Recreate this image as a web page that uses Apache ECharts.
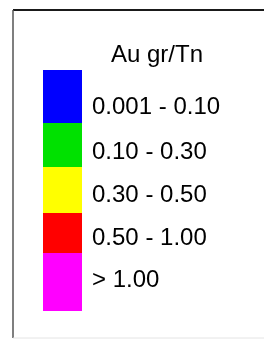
<!DOCTYPE html>
<html>
<head>
<meta charset="utf-8">
<script src="https://cdn.jsdelivr.net/npm/echarts@6/dist/echarts.min.js"></script>
<style>
    html, body { margin: 0; padding: 0; background: #fff; }
    #legendChart { width: 264px; height: 342px; }
</style>
</head>
<body>
<div id="legendChart"></div>
<script>
    // clases de ley de oro
    var classLabels = ['0.001 - 0.10', '0.10 - 0.30', '0.30 - 0.50', '0.50 - 1.00', '> 1.00'];
    var classColors = ['#0000ff', '#00e100', '#ffff00', '#ff0000', '#ff00ff'];
    // alto de cada bloque de color (px del original)
    var blockHeights = [53, 44, 46, 40, 58];
    var labelShift = [11, 7, 5, 5, -2];

    var total = blockHeights.reduce(function (a, b) { return a + b; }, 0);
    var series = [];
    for (var i = 0; i < classLabels.length; i++) {
        series.push({
            name: classLabels[i],
            type: 'bar',
            stack: 'ley',
            barWidth: '100%',
            data: [blockHeights[i]],
            itemStyle: { color: classColors[i] },
            label: {
                show: true,
                position: 'right',
                distance: 10,
                offset: [0, labelShift[i]],
                formatter: classLabels[i],
                color: '#000',
                fontSize: 24,
                fontFamily: 'Liberation Sans, Arial, sans-serif'
            }
        });
    }

    var myChart = echarts.init(document.getElementById('legendChart'));
    myChart.setOption({
        animation: false,
        title: {
            text: 'Au gr/Tn',
            left: 106,
            top: 38,
            textStyle: {
                color: '#000',
                fontSize: 24,
                fontWeight: 'normal',
                fontFamily: 'Liberation Sans, Arial, sans-serif'
            }
        },
        grid: { left: 43, top: 70, width: 39, height: total },
        xAxis: { type: 'category', data: ['Au'], show: false },
        yAxis: { type: 'value', min: 0, max: total, inverse: true, show: false },
        graphic: [
            { type: 'line', shape: { x1: 13, y1: 10, x2: 264, y2: 10 }, style: { stroke: '#1a1a1a', lineWidth: 2 } },
            { type: 'line', shape: { x1: 13, y1: 10, x2: 13, y2: 338 }, style: { stroke: '#555', lineWidth: 1.5 } },
            { type: 'line', shape: { x1: 13, y1: 338, x2: 264, y2: 338 }, style: { stroke: '#e4e4e4', lineWidth: 1 } }
        ],
        series: series
    });
</script>
</body>
</html>
